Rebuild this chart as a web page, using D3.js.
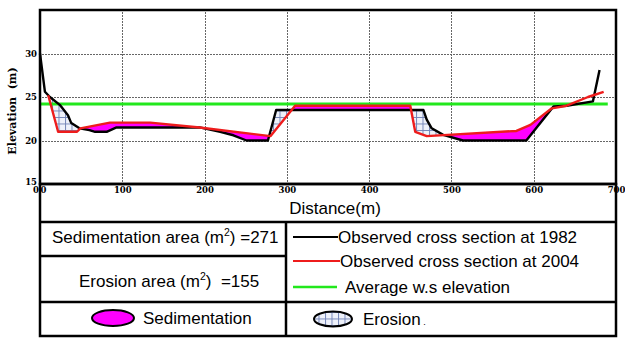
<!DOCTYPE html>
<html>
<head>
<meta charset="utf-8">
<script src="https://cdn.jsdelivr.net/npm/d3@7"></script>
<style>
  body { margin: 0; background: #fff; }
</style>
</head>
<body>
<div id="chart"></div>
<script>
const WIDTH = 625;
const HEIGHT = 338;

// cross section 1982 (black)
const dist1982 = [0, 6, 12, 24, 34, 38, 48, 60, 67, 81, 93, 100, 194, 219, 235, 251, 277, 287, 304, 466, 470, 476, 490, 514, 591, 624, 640, 672, 680];
const elev1982 = [30.0, 25.6, 25.0, 24.1, 22.9, 22.0, 21.4, 21.2, 21.0, 21.0, 21.5, 21.5, 21.5, 21.0, 20.6, 20.0, 20.0, 23.5, 23.5, 23.5, 22.4, 21.4, 20.65, 20.0, 20.0, 23.9, 24.0, 24.5, 28.1];

// cross section 2004 (red)
const dist2004 = [10, 22, 45, 49, 85, 134, 194, 280, 310, 450, 456, 470, 579, 596, 622, 640, 666, 685];
const elev2004 = [25.2, 21.0, 21.0, 21.4, 22.05, 22.05, 21.5, 20.5, 24.0, 24.0, 21.0, 20.5, 21.1, 21.8, 23.7, 24.0, 25.0, 25.6];

// average water surface
const wsDist = [0, 690];
const wsElev = [24.2, 24.2];

// span where sedimentation / erosion is shaded
const shadeRange = [10, 620];

const xTicks = [0, 100, 200, 300, 400, 500, 600, 700];
const yTicks = [15, 20, 25, 30];

const sedArea = 271;
const eroArea = 155;

const LEFT = 40, RIGHT = 616, TOP = 10, BOTTOM = 184;
const ROWS = [184, 222, 256, 302, 336];
const COL = 286;

const svg = d3.select("#chart").append("svg")
  .attr("width", WIDTH)
  .attr("height", HEIGHT);

const x = d3.scaleLinear().domain([0, 700]).range([LEFT, RIGHT]);
const y = d3.scaleLinear().domain([15, 35]).range([BOTTOM, TOP]);

const pts1982 = dist1982.map((d, i) => [d, elev1982[i]]);
const pts2004 = dist2004.map((d, i) => [d, elev2004[i]]);
const ptsWs = wsDist.map((d, i) => [d, wsElev[i]]);

const defs = svg.append("defs");

// grid hatch for erosion
const pat = defs.append("pattern")
  .attr("id", "hatch")
  .attr("patternUnits", "userSpaceOnUse")
  .attr("width", 6.5).attr("height", 6.5);
pat.append("rect").attr("width", 6.5).attr("height", 6.5).attr("fill", "#eef1fa");
pat.append("path").attr("d", "M0,0.5H6.5M0.5,0V6.5")
  .attr("stroke", "#7586b8").attr("stroke-width", 1);

// dotted grid patterns
defs.append("pattern").attr("id", "dotV")
  .attr("patternUnits", "userSpaceOnUse").attr("width", 1).attr("height", 3)
  .append("rect").attr("width", 1).attr("height", 2).attr("fill", "#666");
defs.append("pattern").attr("id", "dotH")
  .attr("patternUnits", "userSpaceOnUse").attr("width", 3).attr("height", 1)
  .append("rect").attr("width", 2).attr("height", 1).attr("fill", "#666");

const above = d3.area()
  .x(d => x(d[0])).y0(y(35)).y1(d => y(d[1]));
const below = d3.area()
  .x(d => x(d[0])).y0(y(15)).y1(d => y(d[1]));
const line = d3.line().x(d => x(d[0])).y(d => y(d[1]));

defs.append("clipPath").attr("id", "above1982")
  .append("path").attr("d", above(pts1982));
defs.append("clipPath").attr("id", "above2004")
  .append("path").attr("d", above(pts2004));
defs.append("clipPath").attr("id", "range")
  .append("rect")
  .attr("x", x(shadeRange[0])).attr("y", TOP)
  .attr("width", x(shadeRange[1]) - x(shadeRange[0]))
  .attr("height", BOTTOM - TOP);

// grid
const grid = svg.append("g");
grid.selectAll("rect.gx").data(xTicks.slice(1, -1)).enter().append("rect")
  .attr("class", "gx")
  .attr("x", d => Math.round(x(d))).attr("width", 1)
  .attr("y", TOP).attr("height", BOTTOM - TOP)
  .attr("fill", "url(#dotV)");
grid.selectAll("rect.gy").data(yTicks.slice(1)).enter().append("rect")
  .attr("class", "gy")
  .attr("x", LEFT).attr("width", RIGHT - LEFT)
  .attr("y", d => Math.round(y(d))).attr("height", 1)
  .attr("fill", "url(#dotH)");

// shaded areas
const shade = svg.append("g").attr("clip-path", "url(#range)");
shade.append("g").attr("clip-path", "url(#above1982)")
  .append("path").attr("d", below(pts2004)).attr("fill", "#ff00ff");
shade.append("g").attr("clip-path", "url(#above2004)")
  .append("path").attr("d", below(pts1982)).attr("fill", "url(#hatch)");

// lines
svg.append("path").attr("d", line(ptsWs))
  .attr("fill", "none").attr("stroke", "#22e81c").attr("stroke-width", 3);
svg.append("path").attr("d", line(pts1982))
  .attr("fill", "none").attr("stroke", "#000").attr("stroke-width", 2.4)
  .attr("stroke-linejoin", "round");
svg.append("path").attr("d", line(pts2004))
  .attr("fill", "none").attr("stroke", "#ee1c1c").attr("stroke-width", 2.4)
  .attr("stroke-linejoin", "round");

// tick labels
const tickFont = "'DejaVu Serif', serif";
svg.append("g")
  .attr("transform", `translate(0,${BOTTOM})`)
  .call(d3.axisBottom(x).tickValues(xTicks).tickSize(0).tickPadding(3))
  .call(g => g.select(".domain").remove())
  .selectAll("text")
  .attr("font-family", tickFont).attr("font-weight", "bold")
  .attr("font-size", 8.5).attr("fill", "#000")
  .attr("dx", d => d === 0 ? "0.35em" : "0");
svg.append("g")
  .attr("transform", `translate(${LEFT - 1},0)`)
  .call(d3.axisLeft(y).tickValues(yTicks).tickSize(0).tickPadding(2))
  .call(g => g.select(".domain").remove())
  .selectAll("text")
  .attr("font-family", tickFont).attr("font-weight", "bold")
  .attr("font-size", 8.5).attr("fill", "#000")
  .attr("dy", d => d === 15 ? "0" : "0.32em");
// second zero at the corner, as in the original
svg.append("text")
  .attr("x", x(0) - 4).attr("y", BOTTOM + 9)
  .attr("text-anchor", "middle")
  .attr("font-family", tickFont).attr("font-weight", "bold")
  .attr("font-size", 8.5)
  .text(xTicks[0]);

svg.append("text")
  .attr("transform", `translate(16, ${(TOP + BOTTOM) / 2 + 14}) rotate(-90)`)
  .attr("text-anchor", "middle")
  .attr("font-family", tickFont).attr("font-weight", "bold")
  .attr("font-size", 11)
  .attr("xml:space", "preserve")
  .text("Elevation  (m)");

// frames
const frame = svg.append("g").attr("fill", "none").attr("stroke", "#000").attr("stroke-width", 2.5);
frame.append("rect").attr("x", LEFT).attr("y", TOP)
  .attr("width", RIGHT - LEFT).attr("height", BOTTOM - TOP);
frame.append("rect").attr("x", LEFT).attr("y", BOTTOM)
  .attr("width", RIGHT - LEFT).attr("height", ROWS[4] - BOTTOM);
frame.append("line").attr("x1", LEFT).attr("x2", RIGHT).attr("y1", ROWS[1]).attr("y2", ROWS[1]);
frame.append("line").attr("x1", LEFT).attr("x2", RIGHT).attr("y1", ROWS[3]).attr("y2", ROWS[3]);
frame.append("line").attr("x1", LEFT).attr("x2", COL).attr("y1", ROWS[2]).attr("y2", ROWS[2]);
frame.append("line").attr("x1", COL).attr("x2", COL).attr("y1", ROWS[1]).attr("y2", ROWS[4]);

const sans = "'Liberation Sans', Arial, sans-serif";
function label(xp, yp, anchor) {
  return svg.append("text").attr("x", xp).attr("y", yp)
    .attr("text-anchor", anchor || "start")
    .attr("font-family", sans).attr("font-size", 17).attr("fill", "#000");
}

label(335, 214, "middle").text("Distance(m)");

const t1 = label(52, 243);
t1.append("tspan").text("Sedimentation area (m");
t1.append("tspan").attr("font-size", 10.5).attr("dy", -7).text("2");
t1.append("tspan").attr("dy", 7).text(") =" + sedArea);

const t2 = label(79, 287);
t2.append("tspan").text("Erosion area (m");
t2.append("tspan").attr("font-size", 10.5).attr("dy", -7).text("2");
t2.append("tspan").attr("dy", 7).attr("xml:space", "preserve").text(")  =" + eroArea);

// legend lines
const legend = [
  { color: "#000", text: "Observed cross section at 1982", y: 237, x2: 338 },
  { color: "#ee1c1c", text: "Observed cross section at 2004", y: 261, x2: 340 },
  { color: "#22e81c", text: "Average w.s elevation", y: 287, x2: 337 }
];
legend.forEach((d, i) => {
  svg.append("line").attr("x1", 293).attr("x2", d.x2).attr("y1", d.y).attr("y2", d.y)
    .attr("stroke", d.color).attr("stroke-width", i === 2 ? 2.5 : 2);
  label(d.x2 + (i === 2 ? 8 : 0), d.y + 6).text(d.text);
});

// area legend
svg.append("ellipse").attr("cx", 113).attr("cy", 318).attr("rx", 21).attr("ry", 8)
  .attr("fill", "#ff00ff").attr("stroke", "#000").attr("stroke-width", 2);
label(143, 324).text("Sedimentation");
svg.append("ellipse").attr("cx", 333).attr("cy", 319).attr("rx", 19).attr("ry", 7.5)
  .attr("fill", "url(#hatch)").attr("stroke", "#000").attr("stroke-width", 2);
const t3 = label(363, 325);
t3.append("tspan").text("Erosion");
t3.append("tspan").attr("font-size", 9).text(" .");
</script>
</body>
</html>
